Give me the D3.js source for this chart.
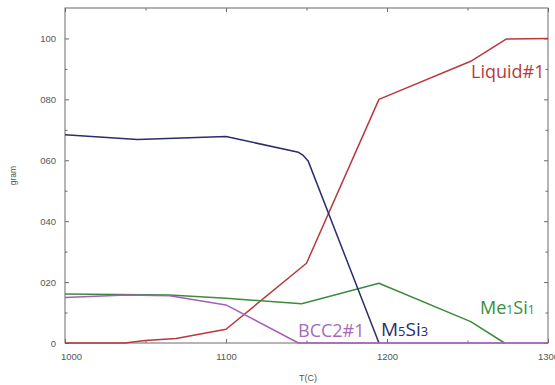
<!DOCTYPE html>
<html>
<head>
<meta charset="utf-8">
<script src="https://cdn.jsdelivr.net/npm/d3@7/dist/d3.min.js"></script>
<style>
  html, body { margin: 0; padding: 0; background: #fff; overflow: hidden; }
  svg { display: block; }
</style>
</head>
<body>
<svg id="chart" width="555" height="385"></svg>
<script>
// Phase amounts (gram) versus temperature T(C)
const liquidT   = [1000, 1037, 1050, 1069, 1100, 1150, 1195, 1252, 1274, 1300];
const liquidG   = [0, 0, 0.8, 1.5, 4.5, 26.2, 80, 92.5, 99.8, 100];

const m5si3T    = [1000, 1045, 1100, 1145, 1148, 1151, 1195];
const m5si3G    = [68.4, 66.8, 67.8, 62.6, 61.6, 59.8, 0];

const me1si1T   = [1000, 1065, 1100, 1147, 1195, 1252, 1273];
const me1si1G   = [16.1, 15.8, 14.7, 12.9, 19.6, 7, 0];

const bcc2T     = [1000, 1038, 1065, 1100, 1145, 1300];
const bcc2G     = [14.9, 15.8, 15.5, 12.5, 0, 0];

const xMajor    = [1000, 1100, 1200, 1300];
const xMinor    = [1050, 1150, 1250];
const yMajor    = [0, 20, 40, 60, 80, 100];
const yMinor    = [10, 30, 50, 70, 90];
const yTickText = ["0", "020", "040", "060", "080", "100"];

const svg = d3.select("#chart");
const L = 65, R = 548, T = 8, B = 343;

const x = d3.scaleLinear().domain([1000, 1300]).range([L, R]);
const y = d3.scaleLinear().domain([0, 110]).range([B, T]);

const frameColor = "#6a6a6a";
const tickFont = "'Liberation Sans', Arial, sans-serif";

// Frame
svg.append("rect")
  .attr("x", L).attr("y", T).attr("width", R - L).attr("height", B - T)
  .attr("fill", "none").attr("stroke", frameColor).attr("stroke-width", 1);

function styleAxis(g) {
  g.select(".domain").remove();
  g.selectAll(".tick line").attr("stroke", frameColor);
  g.selectAll(".tick text")
    .attr("fill", "#555").attr("font-size", 9.5).attr("font-family", tickFont);
}

// Bottom axis: labelled major ticks, inward
const gx = svg.append("g").attr("transform", `translate(0,${B})`)
  .call(d3.axisBottom(x).tickValues(xMajor).tickSizeInner(-4).tickSizeOuter(0)
    .tickPadding(10).tickFormat(d3.format("d")));
styleAxis(gx);
gx.selectAll(".tick text").filter(d => d === 1000).attr("dx", 6);

svg.append("g").attr("transform", `translate(0,${B})`)
  .call(d3.axisBottom(x).tickValues(xMinor).tickSizeInner(-2.5).tickSizeOuter(0).tickFormat(""))
  .call(styleAxis);

// Top axis ticks
svg.append("g").attr("transform", `translate(0,${T})`)
  .call(d3.axisTop(x).tickValues(xMajor).tickSizeInner(-4).tickSizeOuter(0).tickFormat(""))
  .call(styleAxis);
svg.append("g").attr("transform", `translate(0,${T})`)
  .call(d3.axisTop(x).tickValues(xMinor).tickSizeInner(-2.5).tickSizeOuter(0).tickFormat(""))
  .call(styleAxis);

// Left axis
const gy = svg.append("g").attr("transform", `translate(${L},0)`)
  .call(d3.axisLeft(y).tickValues(yMajor).tickSizeInner(-4).tickSizeOuter(0)
    .tickPadding(9).tickFormat((d, i) => yTickText[i]));
styleAxis(gy);
svg.append("g").attr("transform", `translate(${L},0)`)
  .call(d3.axisLeft(y).tickValues(yMinor).tickSizeInner(-2.5).tickSizeOuter(0).tickFormat(""))
  .call(styleAxis);

// Right axis ticks
svg.append("g").attr("transform", `translate(${R},0)`)
  .call(d3.axisRight(y).tickValues(yMajor).tickSizeInner(-4).tickSizeOuter(0).tickFormat(""))
  .call(styleAxis);
svg.append("g").attr("transform", `translate(${R},0)`)
  .call(d3.axisRight(y).tickValues(yMinor).tickSizeInner(-2.5).tickSizeOuter(0).tickFormat(""))
  .call(styleAxis);

// Axis titles
svg.append("text")
  .attr("transform", `translate(16,${(T + B) / 2}) rotate(-90)`)
  .attr("text-anchor", "middle").attr("font-size", 8.5)
  .attr("font-family", tickFont).attr("fill", "#555")
  .text("gram");
svg.append("text")
  .attr("x", 308).attr("y", 381)
  .attr("text-anchor", "middle").attr("font-size", 9)
  .attr("font-family", tickFont).attr("fill", "#555")
  .text("T(C)");

// Phase curves
const line = d3.line().x(d => x(d[0])).y(d => y(d[1]));
const series = [
  { t: liquidT, g: liquidG, color: "#b8393c" },
  { t: me1si1T, g: me1si1G, color: "#3b8c3b" },
  { t: m5si3T,  g: m5si3G,  color: "#2c2c6c" },
  { t: bcc2T,   g: bcc2G,   color: "#a55fb8" }
];
svg.append("g").selectAll("path")
  .data(series)
  .join("path")
  .attr("d", s => line(s.t.map((v, i) => [v, s.g[i]])))
  .attr("fill", "none")
  .attr("stroke", s => s.color)
  .attr("stroke-width", 1.5)
  .attr("stroke-linejoin", "round");

// Phase names
const labelFont = "'Open Sans', 'Noto Sans', sans-serif";
function phaseLabel(px, py, parts, color, size) {
  const t = svg.append("text")
    .attr("x", px).attr("y", py)
    .attr("font-family", labelFont).attr("font-size", size)
    .attr("fill", color);
  parts.forEach(p => {
    t.append("tspan").attr("font-size", p.small ? size * 0.68 : size).text(p.s);
  });
}
phaseLabel(471, 78, [{ s: "Liquid#1" }], "#b8393c", 18);
phaseLabel(381, 336, [{ s: "M" }, { s: "5", small: true }, { s: "Si" }, { s: "3", small: true }], "#2c2c6c", 19);
phaseLabel(298, 337, [{ s: "BCC2#1" }], "#a66bb8", 18);
phaseLabel(480, 314, [{ s: "Me" }, { s: "1", small: true }, { s: "Si" }, { s: "1", small: true }], "#3b8c3b", 18);
</script>
</body>
</html>
